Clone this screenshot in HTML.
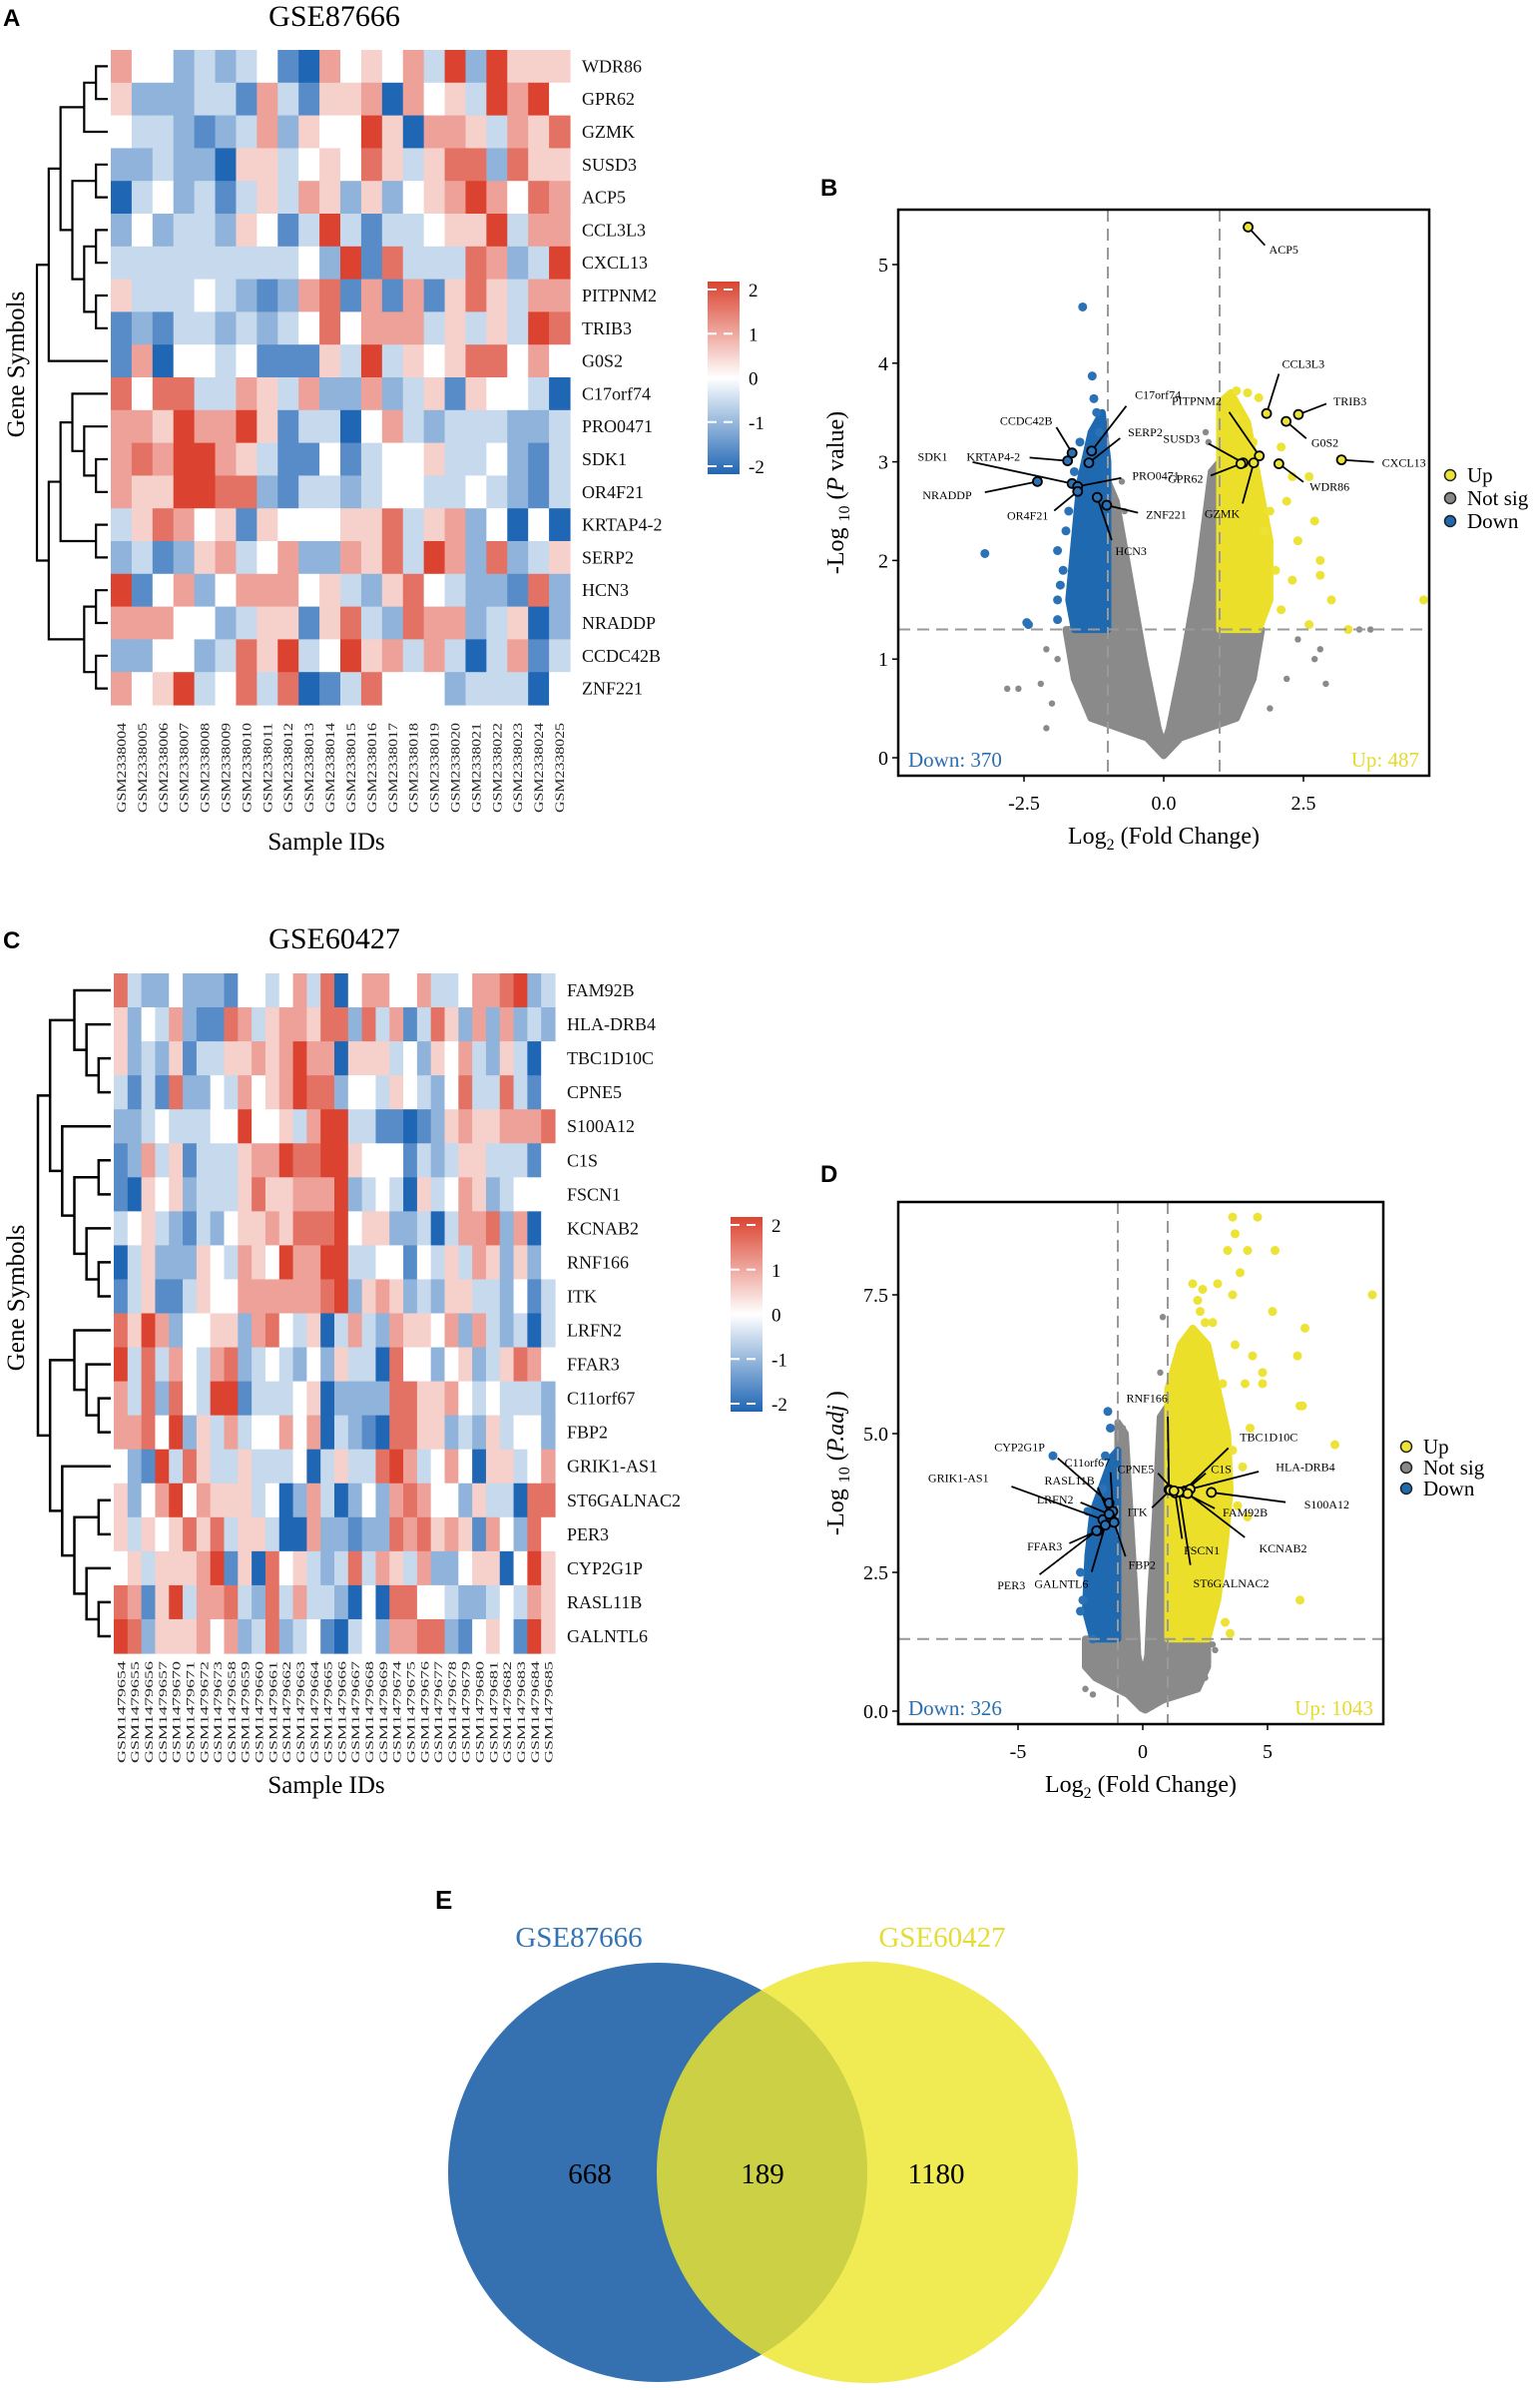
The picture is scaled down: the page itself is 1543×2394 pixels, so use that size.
<!DOCTYPE html>
<html><head><meta charset="utf-8"><style>
html,body{margin:0;padding:0;background:#fff}
svg text{font-family:"Liberation Serif",serif}
</style></head><body>
<svg id="fig" width="1543" height="2389" viewBox="0 0 1543 2389" xmlns="http://www.w3.org/2000/svg">
<defs>
<linearGradient id="cbar" x1="0" y1="0" x2="0" y2="1">
<stop offset="0" stop-color="#db4330"/><stop offset="0.5" stop-color="#ffffff"/><stop offset="1" stop-color="#1f66b5"/>
</linearGradient>
</defs>
<g id="root"></g>
</svg>
<script>
// ---------- DATA ----------
const genesA = ["WDR86","GPR62","GZMK","SUSD3","ACP5","CCL3L3","CXCL13","PITPNM2","TRIB3","G0S2","C17orf74","PRO0471","SDK1","OR4F21","KRTAP4-2","SERP2","HCN3","NRADDP","CCDC42B","ZNF221"];
const samplesA = ["004","005","006","007","008","009","010","011","012","013","014","015","016","017","018","019","020","021","022","023","024","025"].map(s=>"GSM2338"+s);
// values 0..8 => -2..2
const heatA = [
"6442323410645463828555","5222331631556064538684","4332123625448506653657","2232205534547535772755",
"0342313536525245686476","2423325413831334558366","3333333334281733376238","5333432126716161575366",
"1213323234746663535387","1604434111538354577464","7477336536226235154430","6658668513304632333223",
"6768865311413445334213","6558877213323443343213","3576451544455735624040","2312563462265738627235",
"8146246664532574322172","6664423551573276623502","2244237583485636303613","6458347370137444233304"];
const genesC = ["FAM92B","HLA-DRB4","TBC1D10C","CPNE5","S100A12","C1S","FSCN1","KCNAB2","RNF166","ITK","LRFN2","FFAR3","C11orf67","FBP2","GRIK1-AS1","ST6GALNAC2","PER3","CYP2G1P","RASL11B","GALNTL6"];
const samplesC = ["9654","9655","9656","9657","9670","9671","9672","9673","9658","9659","9660","9661","9662","9663","9664","9665","9666","9667","9668","9669","9674","9675","9676","9677","9678","9679","9680","9681","9682","9683","9684","9685"].map(s=>"GSM147"+s);
const heatC = [
"73224222144346370466446334667823","52436211763566577273613752626232","52325133556568660555342546325304",
"31317224364568772443543247337314","22343334484453688331101256556667","12635133356687788544413235533314",
"10545233357556668234305346523444","34532132455657778455223036672604","03522254365486688334414353652524",
"13511354466666678256523255332413","75862445526743503632655462632303","83736436723432425330744245235764",
"63727438813334502222775564343332","66748253634464603210775523253442","42183753353334035337863464055346",
"52468465553402630242676442533077","53545757355300622122767565164274","45355568150745323736536224550485",
"76158366732736332040774432234365","87255564623723410342667721454185"];
const ticksCbar = [2,1,0,-1,-2];
const treeA = [[[[[0,1],2],[[3,4],[[5,6],[7,8]]]],9],[[[10,[11,[12,13]]],[14,15]],[[16,17],[18,19]]]];
const treeC = [[[0,[1,[2,3]]],[4,[[5,6],[7,[8,9]]]]],[[10,[11,[12,13]]],[14,[[15,16],[17,[18,19]]]]]];
// volcano B
const bGrayCloud = [[0,0.02],[-0.3,0.2],[-1.3,0.4],[-1.6,0.8],[-1.75,1.3],[-1,1.3],[-1,2.8],[-0.85,2.6],[-0.6,1.8],[-0.35,1.0],[-0.1,0.3],[0,0.12],[0.1,0.3],[0.35,1.0],[0.6,1.8],[0.85,2.9],[1,3.0],[1,1.3],[1.75,1.3],[1.6,0.8],[1.3,0.4],[0.3,0.2]];
const bBlueCloud = [[-1,1.3],[-1.6,1.3],[-1.7,1.6],[-1.6,2.2],[-1.5,2.8],[-1.3,3.3],[-1.1,3.5],[-1,3.0]];
const bYellowCloud = [[1,1.3],[1.7,1.3],[1.9,1.6],[1.9,2.2],[1.7,2.8],[1.5,3.4],[1.2,3.7],[1,3.6]];
const bBluePts = [[-1.45,4.57],[-1.28,3.87],[-1.25,3.64],[-3.2,2.07],[-1.9,2.1],[-2.45,1.37],[-2.42,1.35],[-1.9,1.4],[-1.85,1.75],[-1.8,1.9],[-1.2,3.5],[-1.15,3.3],[-1.5,3.2],[-1.7,2.5],[-1.75,2.3],[-1.9,1.6],[-1.4,3.0],[-1.6,2.9]];
const bYellowPts = [[1.3,3.72],[1.5,3.7],[1.7,3.65],[2.1,3.15],[2.3,2.85],[2.6,2.85],[2.7,2.4],[2.8,2.0],[2.8,1.85],[3.0,1.6],[4.65,1.6],[3.3,1.3],[2.6,1.35],[2.4,2.2],[2.3,1.8],[2.1,1.5],[1.9,2.5],[2.2,2.6],[2.0,1.9],[1.8,2.3],[1.3,3.45],[1.6,3.2]];
const bGrayPts = [[-2.6,0.7],[-2.8,0.7],[-2.2,0.75],[-2.0,0.55],[-2.1,0.3],[-1.9,1.0],[-2.1,1.1],[2.7,1.0],[2.8,1.1],[3.7,1.3],[2.9,0.75],[2.2,0.8],[1.9,0.5],[-0.75,2.8],[-0.7,2.5],[0.75,3.3],[0.8,3.2],[2.4,1.2],[3.5,1.3]];
const bLabels = ["ACP5","CCL3L3","TRIB3","G0S2","CXCL13","WDR86","PITPNM2","SUSD3","GPR62","GZMK","C17orf74","SERP2","CCDC42B","KRTAP4-2","SDK1","NRADDP","PRO0471","OR4F21","ZNF221","HCN3"];
const bLabX = [1.51,1.84,2.41,2.19,3.18,2.06,1.71,1.42,1.38,1.61,-1.29,-1.34,-1.64,-1.72,-1.64,-2.26,-1.54,-1.54,-1.02,-1.19];
const bLabY = [5.38,3.49,3.48,3.41,3.02,2.98,3.06,2.99,2.98,2.99,3.11,2.99,3.09,3.01,2.78,2.80,2.75,2.70,2.56,2.64];
const bLabOff = [[15,17],[11,-37],[25,-10],[18,16],[29,2],[22,17],[-27,-41],[-31,-18],[-27,11],[-10,38],[31,-42],[28,-23],[-14,-24],[-34,-3],[-89,-20],[-47,10],[39,-8],[-21,18],[28,7],[13,40]];
const bUp = ["1","1","1","1","1","1","1","1","1","1","0","0","0","0","0","0","0","0","0","0"];
// volcano D
const dGrayCloud = [[-0.05,0.05],[-0.6,0.3],[-1.9,0.6],[-2.3,0.8],[-2.3,1.3],[-1,1.3],[-1,5.2],[-0.7,5.0],[-0.5,3.5],[-0.3,2.0],[-0.2,1.0],[0,0.6],[0.2,1.0],[0.3,2],[0.5,3.5],[0.7,5.3],[1.0,5.5],[1.0,1.3],[2.6,1.3],[2.6,0.8],[2.2,0.4],[0.8,0.2],[0.1,0.02]];
const dYellowCloud = [[1,1.3],[2.6,1.3],[3.0,2.0],[3.3,3],[3.5,4],[3.4,5],[3.0,5.8],[2.6,6.6],[2.0,6.9],[1.5,6.6],[1.0,5.8]];
const dBlueCloud = [[-1,1.3],[-2.0,1.3],[-2.3,1.8],[-2.2,2.8],[-2.0,3.6],[-1.6,4.1],[-1.2,4.6],[-1,4.7]];
const dYellowPts = [[3.6,8.9],[4.6,8.9],[3.7,8.6],[3.4,8.3],[4.2,8.3],[5.3,8.3],[3.9,7.9],[2.0,7.7],[2.4,7.6],[3.0,7.7],[3.6,7.5],[2.3,7.2],[2.8,7.0],[5.2,7.2],[6.5,6.9],[9.2,7.5],[3.7,6.6],[4.4,6.4],[6.2,6.4],[4.8,6.1],[3.2,5.9],[4.1,5.9],[4.8,5.9],[6.3,5.5],[6.4,5.5],[7.7,4.8],[4.3,5.1],[3.6,4.7],[3.8,3.7],[4.2,3.5],[6.3,2.0],[3.3,1.6],[3.5,1.4],[2.6,2.9],[4.0,4.4],[2.2,7.4],[2.5,7.0]];
const dBluePts = [[-1.4,5.4],[-1.3,5.1],[-3.6,4.6],[-2.2,3.6],[-2.5,2.5],[-2.5,1.8],[-2.0,1.3],[-1.6,4.0],[-1.5,4.6],[-2.4,2.0]];
const dGrayPts = [[0.8,7.1],[0.7,6.1],[-0.8,5.1],[-0.7,4.9],[2.6,0.9],[2.8,1.2],[2.9,1.1],[2.5,0.6],[-2.0,0.3],[-2.3,0.4],[-1.7,0.9]];
const dLabels = ["RNF166","TBC1D10C","C1S","HLA-DRB4","S100A12","FAM92B","KCNAB2","FSCN1","ST6GALNAC2","ITK","CPNE5","CYP2G1P","C11orf67","GRIK1-AS1","RASL11B","LRFN2","FFAR3","FBP2","PER3","GALNTL6"];
const dLabX = [1.05,1.6,1.7,1.9,2.75,1.6,1.8,1.3,1.45,1.1,1.25,-1.35,-1.2,-1.6,-1.3,-1.35,-1.8,-1.15,-1.85,-1.5];
const dLabY = [3.99,3.95,3.97,4.0,3.94,3.95,3.92,3.93,3.95,3.98,3.97,3.75,3.6,3.45,3.5,3.55,3.25,3.4,3.25,3.35];
const dLabOff = [[-1,-75],[40,-45],[18,-18],[60,-18],[65,10],[28,17],[50,45],[6,47],[10,75],[-16,18],[-14,-18],[-45,-46],[-2,-40],[-80,-34],[-11,-30],[-25,-12],[-25,13],[10,35],[-50,45],[-12,48]];
const dUp = ["1","1","1","1","1","1","1","1","1","1","1","0","0","0","0","0","0","0","0","0"];
// venn
const vennNames = ["GSE87666","GSE60427"];
const vennCounts = [668,189,1180];

// ---------- HELPERS ----------
const NS="http://www.w3.org/2000/svg";
const root=document.getElementById('root');
function mk(tag,attrs,parent,txt){const e=document.createElementNS(NS,tag);for(const k in attrs)e.setAttribute(k,attrs[k]);if(txt!==undefined)e.textContent=txt;(parent||root).appendChild(e);return e;}
function heatColor(d){const v=(d-4)/4;let c;if(v>=0){c=[255+(219-255)*v,255+(67-255)*v,255+(48-255)*v];}else{const t=-v;c=[255+(31-255)*t,255+(102-255)*t,255+(181-255)*t];}return `rgb(${c.map(Math.round).join(',')})`;}

function heatmap(cfg){
  const g=mk('g',{});
  
  
  const nR=cfg.genes.length,nC=cfg.samples.length;
  const cw=(cfg.x1-cfg.x0)/nC, ch=(cfg.y1-cfg.y0)/nR;
  cfg.data.forEach((row,i)=>{for(let j=0;j<nC;j++){
    const r=mk('rect',{x:(cfg.x0+j*cw).toFixed(2),y:(cfg.y0+i*ch).toFixed(2),width:(cw+0.6).toFixed(2),height:(ch+0.6).toFixed(2),fill:heatColor(+row[j])},g);
    
    
  }});
  cfg.genes.forEach((gn,i)=>{
    const t=mk('text',{x:cfg.labX,y:cfg.y0+(i+0.5)*ch+6,'font-size':18,fill:'#111'},g,gn);
    
    
  });
  cfg.samples.forEach((s,j)=>{
    const x=cfg.x0+(j+0.5)*cw+4.5, y=cfg.y1+cfg.sgap;
    const t=mk('text',{x:x,y:y,'font-size':cfg.sfs,'text-anchor':'end',textLength:cfg.slen,lengthAdjust:'spacingAndGlyphs',transform:`rotate(-90 ${x} ${y})`,fill:'#222'},g,s);
    
    
  });
  const dg=mk('g',{stroke:'#000','stroke-width':cfg.dw,fill:'none'},g);
  
  
  function depth(n){return Array.isArray(n)?1+Math.max(depth(n[0]),depth(n[1])):0;}
  const D=depth(cfg.tree);
  function draw(n){ if(!Array.isArray(n)) return {y:cfg.y0+(n+0.5)*ch,x:cfg.x0-3};
    const a=draw(n[0]),b=draw(n[1]); const d=depth(n); const x=cfg.x0-3-(cfg.x0-3-cfg.dx0)*d/D;
    mk('path',{d:`M${a.x},${a.y}H${x}V${b.y}H${b.x}`},dg); return {x:x,y:(a.y+b.y)/2};}
  draw(cfg.tree);
  const cb=mk('g',{},g);
  
  
  mk('rect',{x:cfg.cbx,y:cfg.cby0,width:32,height:cfg.cby1-cfg.cby0,fill:'url(#cbar)'},cb);
  const tTop=cfg.cby0+8,tBot=cfg.cby1-8;
  ticksCbar.forEach((v,k)=>{const y=tTop+(2-v)/4*(tBot-tTop);
    if(v!==0){mk('line',{x1:cfg.cbx,x2:cfg.cbx+32,y1:y,y2:y,stroke:'#fff','stroke-width':2,'stroke-dasharray':'9 7'},cb);}
    mk('text',{x:cfg.cbx+41,y:y+7,'font-size':19},cb,String(v));});
}

heatmap({name:'heatmap-a',genes:genesA,samples:samplesA,data:heatA,x0:111,x1:571,y0:50,y1:706,labX:583,sfs:13,slen:90,sgap:18,tree:treeA,dx0:37,dw:2.2,cbx:709,cby0:282,cby1:475});
heatmap({name:'heatmap-c',genes:genesC,samples:samplesC,data:heatC,x0:114,x1:556,y0:975,y1:1656,labX:568,sfs:12,slen:102,sgap:8,tree:treeC,dx0:38,dw:2.5,cbx:732,cby0:1219,cby1:1414});

function txt(name,x,y,s,attrs){const t=mk('text',Object.assign({x:x,y:y},attrs||{}),root,s);return t;}
txt('panel-label-a',3,26,'A',{'font-size':24,'font-weight':'bold',style:'font-family:"Liberation Sans",sans-serif'});
txt('heatmap-a-title',335,26,'GSE87666',{'font-size':30,'text-anchor':'middle'});
txt('x-axis-title-a',327,851,'Sample IDs',{'font-size':25,'text-anchor':'middle'});
txt('y-axis-title-a',24,365,'Gene Symbols',{'font-size':25,'text-anchor':'middle',transform:'rotate(-90 24 365)'});
txt('panel-label-c',3,950,'C',{'font-size':24,'font-weight':'bold',style:'font-family:"Liberation Sans",sans-serif'});
txt('heatmap-c-title',335,950,'GSE60427',{'font-size':30,'text-anchor':'middle'});
txt('x-axis-title-c',327,1796,'Sample IDs',{'font-size':25,'text-anchor':'middle'});
txt('y-axis-title-c',24,1300,'Gene Symbols',{'font-size':25,'text-anchor':'middle',transform:'rotate(-90 24 1300)'});

// ---------- VOLCANO ----------
function volcano(c){
  const g=mk('g',{});
  
  
  const sx=v=>c.x0px+v*c.kx, sy=v=>c.y0px-v*c.ky;
  const poly=(pts,fill)=>mk('polygon',{points:pts.map(p=>sx(p[0]).toFixed(1)+','+sy(p[1]).toFixed(1)).join(' '),fill:fill,stroke:fill,'stroke-width':7,'stroke-linejoin':'round'},g);
  const pts=(arr,fill,r,nm)=>arr.forEach(p=>{const e=mk('circle',{cx:sx(p[0]),cy:sy(p[1]),r:r,fill:fill},g);});
  const gc=poly(c.gray,'#8a8a8a');
  const bc=poly(c.blue,'#1f69b1');
  const yc=poly(c.yellow,'#ebdf2a');
  pts(c.gpts,'#8a8a8a',3.2,'not-sig-point');pts(c.bpts,'#2a72b5',4.5,'down-point');pts(c.ypts,'#ede337',4.5,'up-point');
  [-1,1].forEach(v=>mk('line',{x1:sx(v),x2:sx(v),y1:c.top,y2:c.bot,stroke:'#999','stroke-width':2,'stroke-dasharray':'12 7'},g));
  mk('line',{x1:c.left,x2:c.right,y1:sy(1.3),y2:sy(1.3),stroke:'#999','stroke-width':2,'stroke-dasharray':'12 7'},g);
  c.labs.forEach((nm,i)=>{const px=sx(c.lx[i]),py=sy(c.ly[i]);const o=[c.off[i][0]*c.os[0],c.off[i][1]*c.os[1]];
    mk('line',{x1:px,y1:py,x2:px+o[0]*0.8,y2:py+o[1]*0.8,stroke:'#000','stroke-width':1.8},g);
    const e=mk('circle',{cx:px,cy:py,r:4.5,fill:c.up[i]==='1'?'#ede337':'#2a72b5',stroke:'#000','stroke-width':1.8},g);
    
    const t=mk('text',{x:px+o[0],y:py+o[1]+4,'font-size':12,'text-anchor':o[0]<0?'end':'start'},g,nm);
    
  });
  const fr=mk('rect',{x:c.left,y:c.top,width:c.right-c.left,height:c.bot-c.top,fill:'none',stroke:'#000','stroke-width':2.5},g);
  
  c.yt.forEach((v,i)=>{mk('line',{x1:c.left-6,x2:c.left,y1:sy(v),y2:sy(v),stroke:'#000','stroke-width':1.5},g);
    const t=mk('text',{x:c.left-10,y:sy(v)+7,'font-size':20,'text-anchor':'end'},g,c.ytl[i]);});
  c.xt.forEach((v,i)=>{mk('line',{x1:sx(v),x2:sx(v),y1:c.bot,y2:c.bot+6,stroke:'#000','stroke-width':1.5},g);
    const t=mk('text',{x:sx(v),y:c.bot+34,'font-size':20,'text-anchor':'middle'},g,c.xtl[i]);});
  const xt=mk('text',{x:(c.left+c.right)/2,y:c.bot+68,'font-size':24,'text-anchor':'middle'},g);
  xt.innerHTML='Log<tspan font-size="16" dy="6">2</tspan><tspan dy="-6"> (Fold Change)</tspan>';
  
  const yx=c.left-55, yy=(c.top+c.bot)/2;
  const yt=mk('text',{x:yx,y:yy,'font-size':24,'text-anchor':'middle',transform:`rotate(-90 ${yx} ${yy})`},g);
  yt.innerHTML='-Log <tspan font-size="16" dy="6">10</tspan><tspan dy="-6"> (</tspan><tspan font-style="italic">'+c.ylab+'</tspan>'+c.ylab2+')';
  
  const dn=mk('text',{x:c.left+10,y:c.bot-9,'font-size':21,fill:'#2a6eb0'},g,c.down);
  const un=mk('text',{x:c.right-10,y:c.bot-9,'font-size':21,fill:'#e6da2c','text-anchor':'end'},g,c.upn);
  [['Up','#ede337'],['Not sig','#888'],['Down','#1f69b1']].forEach((l,i)=>{const y=c.legY+i*c.legS;
    const e=mk('g',{},g);
    mk('circle',{cx:c.legX,cy:y,r:5.5,fill:l[1],stroke:'#222','stroke-width':1.5},e);
    mk('text',{x:c.legX+17,y:y+7,'font-size':21},e,l[0]);});
  const pl=mk('text',{x:c.letX,y:c.letY,'font-size':24,'font-weight':'bold',style:'font-family:"Liberation Sans",sans-serif'},g,c.letter);
  
}
volcano({name:'volcano-b',letter:'B',letX:822,letY:196,left:900,right:1432,top:210,bot:777,x0px:1166,kx:56,y0px:759,ky:98.8,
 gray:bGrayCloud,blue:bBlueCloud,yellow:bYellowCloud,gpts:bGrayPts,bpts:bBluePts,ypts:bYellowPts,
 labs:bLabels,lx:bLabX,ly:bLabY,off:bLabOff,os:[1.4,1.34],up:bUp,yt:[0,1,2,3,4,5],ytl:['0','1','2','3','4','5'],xt:[-2.5,0,2.5],xtl:['-2.5','0.0','2.5'],
 ylab:'P',ylab2:' value',down:'Down: 370',upn:'Up: 487',legX:1453,legY:476,legS:23});
volcano({name:'volcano-d',letter:'D',letX:822,letY:1184,left:900,right:1386,top:1204,bot:1727,x0px:1145,kx:25,y0px:1714,ky:55.6,
 gray:dGrayCloud,blue:dBlueCloud,yellow:dYellowCloud,gpts:dGrayPts,bpts:dBluePts,ypts:dYellowPts,
 labs:dLabels,lx:dLabX,ly:dLabY,off:dLabOff,os:[1.43,1.22],up:dUp,yt:[0,2.5,5,7.5],ytl:['0.0','2.5','5.0','7.5'],xt:[-5,0,5],xtl:['-5','0','5'],
 ylab:'P.adj',ylab2:' ',down:'Down: 326',upn:'Up: 1043',legX:1409,legY:1449,legS:21});

// ---------- VENN ----------
const vg=mk('g',{});


const c1=mk('circle',{cx:659,cy:2176,r:210,fill:'#3571b0'},vg);

const c2=mk('circle',{cx:869,cy:2176,r:211,fill:'#ede52d','fill-opacity':0.82},vg);

txt('venn-label-gse87666',580,1950,vennNames[0],{'font-size':29,'text-anchor':'middle',fill:'#3574b3'});
txt('venn-label-gse60427',944,1950,vennNames[1],{'font-size':29,'text-anchor':'middle',fill:'#e6dc36'});
txt('venn-count-left',591,2187,String(vennCounts[0]),{'font-size':29,'text-anchor':'middle'});
txt('venn-count-overlap',764,2187,String(vennCounts[1]),{'font-size':29,'text-anchor':'middle'});
txt('venn-count-right',938,2187,String(vennCounts[2]),{'font-size':29,'text-anchor':'middle'});
txt('panel-label-e',436,1912,'E',{'font-size':26,'font-weight':'bold',style:'font-family:"Liberation Sans",sans-serif'});
</script>
</body></html>
